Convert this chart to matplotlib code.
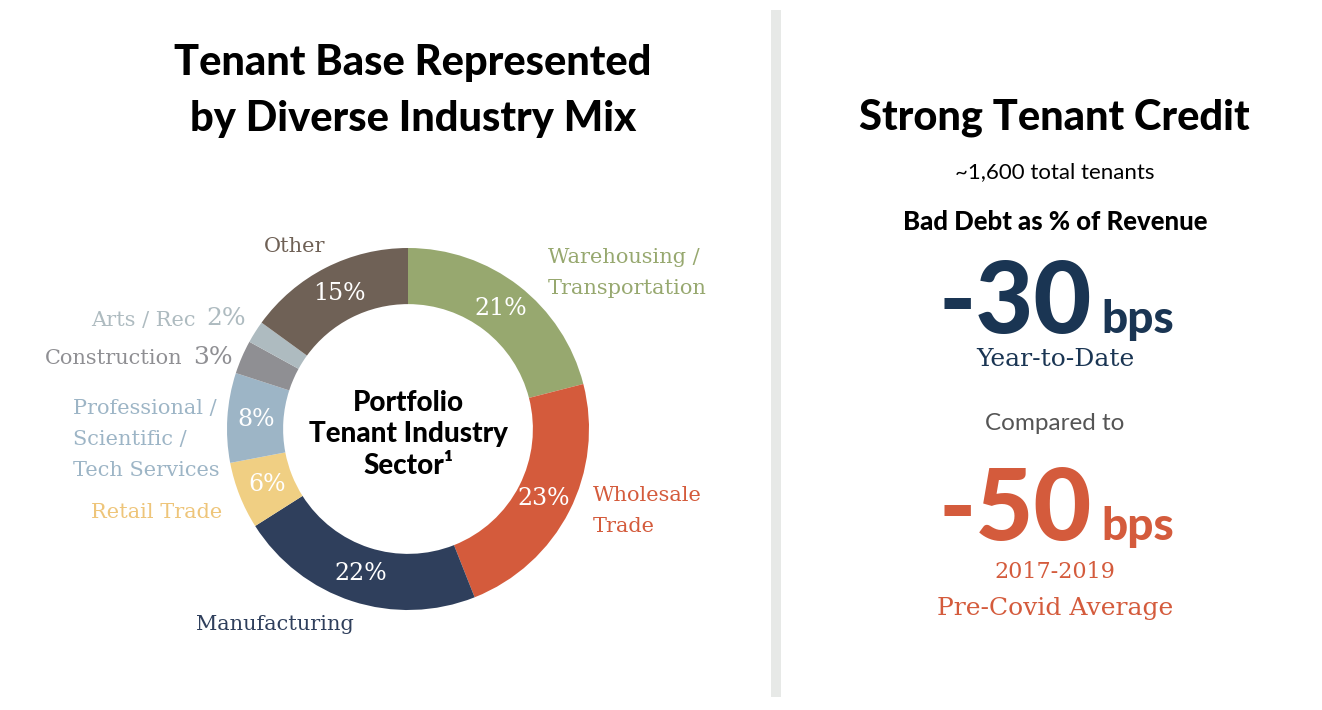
import matplotlib.pyplot as plt
from matplotlib.patches import Rectangle

# data
sectors = ["Warehousing /\nTransportation", "Wholesale\nTrade", "Manufacturing",
           "Retail Trade", "Professional /\nScientific /\nTech Services",
           "Construction", "Arts / Rec", "Other"]
shares = [21, 23, 22, 6, 8, 3, 2, 15]
colors = ["#97a86f", "#d45b3c", "#2f3f5c", "#f0cf83", "#9db5c6",
          "#8f8f93", "#aebbc0", "#6f6156"]
ytd_bps = -30
precovid_bps = -50
total_tenants = "~1,600"

W, H = 1322, 710
fig = plt.figure(figsize=(W / 100, H / 100), dpi=100)
fig.patch.set_facecolor("white")


def px(x, y):
    return x / W, 1 - y / H


heavy = dict(family="Lato", fontweight="black")
serif = dict(family="DejaVu Serif")

# donut
cx, cy, R = 408, 429, 181
ax = fig.add_axes([(cx - R) / W, (H - cy - R) / H, 2 * R / W, 2 * R / H])
wedges, _, autotexts = ax.pie(
    shares, colors=colors, startangle=90, counterclock=False,
    wedgeprops=dict(width=0.31, edgecolor="none"),
    autopct=lambda p: f"{p:.0f}%" if p > 4 else "", pctdistance=0.84,
    textprops=dict(color="white", fontsize=17, **serif))
ax.set_xlim(-1, 1)
ax.set_ylim(-1, 1)
ax.axis("off")

ax.text(0, -0.03, "Portfolio\nTenant Industry\nSector\u00b9", ha="center", va="center",
        fontsize=20, linespacing=1.25, color="black", **heavy)

# outside labels
lab = dict(fontsize=15, **serif)
fig.text(*px(295, 246), "Other", ha="center", va="center", color=colors[7], **lab)
fig.text(*px(548, 273), sectors[0], ha="left", va="center", color=colors[0],
         linespacing=1.8, **lab)
fig.text(*px(593, 511), sectors[1], ha="left", va="center", color=colors[1],
         linespacing=1.8, **lab)
fig.text(*px(275, 624), sectors[2], ha="center", va="center", color=colors[2], **lab)
fig.text(*px(222, 513), sectors[3], ha="right", va="center", color="#eec57a", **lab)
fig.text(*px(73, 440), sectors[4], ha="left", va="center", color=colors[4],
         linespacing=1.8, **lab)
fig.text(*px(183, 359), sectors[5], ha="right", va="center", color=colors[5], **lab)
fig.text(*px(193, 357), f"{shares[5]}%", ha="left", va="center", color=colors[5],
         fontsize=18, **serif)
fig.text(*px(196, 320), sectors[6], ha="right", va="center", color=colors[6], **lab)
fig.text(*px(206, 318), f"{shares[6]}%", ha="left", va="center", color=colors[6],
         fontsize=18, **serif)

# titles
fig.text(*px(413, 91), "Tenant Base Represented\nby Diverse Industry Mix", ha="center",
         va="center", fontsize=30, linespacing=1.55, color="black", **heavy)
fig.text(*px(1054, 118), "Strong Tenant Credit", ha="center", va="center",
         fontsize=30, color="black", **heavy)

# divider
fig.add_artist(Rectangle(px(771, 697), 10 / W, 687 / H, transform=fig.transFigure,
                         facecolor="#e7e9e7", edgecolor="none"))

# right panel
navy = "#1a3553"
orange = "#d45b3c"
fig.text(*px(1055, 172), f"{total_tenants} total tenants", ha="center", va="center",
         fontsize=16, family="Lato", color="black")
fig.text(*px(1055, 222), "Bad Debt as % of Revenue", ha="center", va="center",
         fontsize=18.5, color="black", **heavy)
fig.text(*px(1092, 333), f"{ytd_bps}", ha="right", va="baseline", fontsize=72,
         color=navy, **heavy)
fig.text(*px(1101, 333), "bps", ha="left", va="baseline", fontsize=33,
         color=navy, **heavy)
fig.text(*px(1055, 360), "Year-to-Date", ha="center", va="center", fontsize=18,
         color=navy, **serif)
fig.text(*px(1055, 423), "Compared to", ha="center", va="center", fontsize=17.5,
         family="Lato", color="#555555")
fig.text(*px(1092, 540), f"{precovid_bps}", ha="right", va="baseline", fontsize=72,
         color=orange, **heavy)
fig.text(*px(1101, 540), "bps", ha="left", va="baseline", fontsize=33,
         color=orange, **heavy)
fig.text(*px(1055, 572), "2017-2019", ha="center", va="center", fontsize=16,
         color=orange, **serif)
fig.text(*px(1055, 608), "Pre-Covid Average", ha="center", va="center", fontsize=18,
         color=orange, **serif)

fig.savefig("out.png", dpi=100, facecolor="white")
